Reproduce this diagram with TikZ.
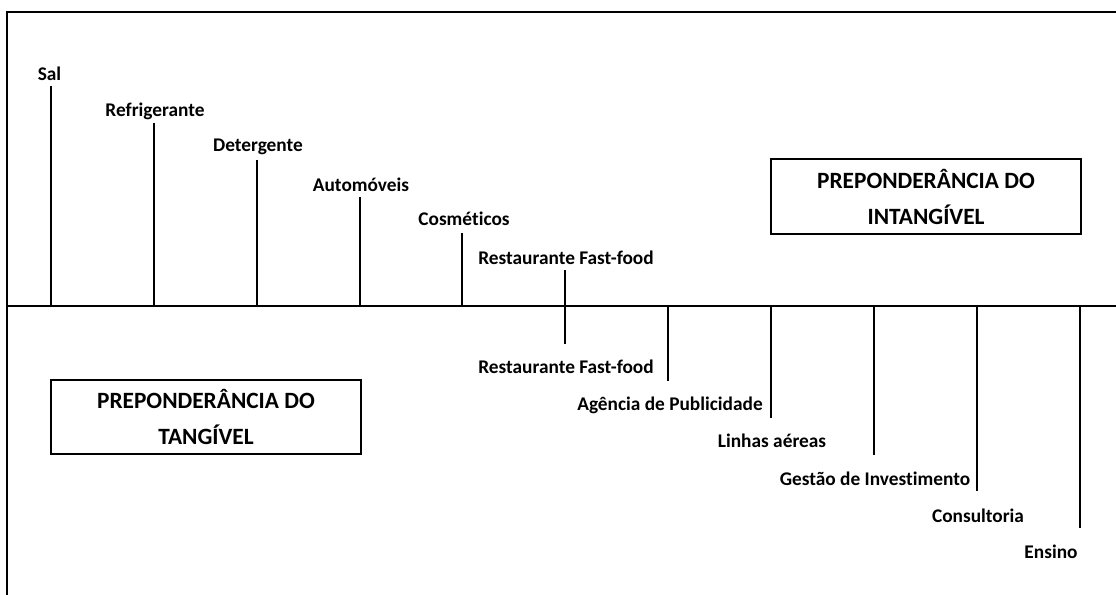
\documentclass[tikz,border=0pt]{standalone}
\usepackage{fontspec}
\setmainfont{Carlito}[Ligatures=CommonOff]
\begin{document}
\begin{tikzpicture}[x=0.75pt,y=-0.75pt,
  frameline/.style={line width=2.2pt,line cap=rect},
  tickline/.style={line width=2.2pt},
  lbl/.style={font=\bfseries\fontsize{14.5}{17}\selectfont,inner sep=0pt,anchor=center},
  bigbox/.style={draw,line width=2.2pt,inner sep=0pt,align=center,
    font=\bfseries\fontsize{17.5}{27}\selectfont}]
\useasboundingbox (0,0) rectangle (1116,595);
% frame and axis
\coordinate (fbl) at (7,597);
\coordinate (ftl) at (7,12);
\coordinate (ftr) at (1118,12);
\coordinate (al) at (7,306);
\coordinate (ar) at (1118,306);
\draw[frameline] (fbl) -- (ftl) -- (ftr);
\draw[frameline] (al) -- (ar);
% upper ticks
\foreach \i/\x/\t in {1/51/86,2/154/123,3/257/160,4/360/197,5/462/233}{
  \coordinate (ut\i) at (\x,\t);
  \coordinate (ub\i) at (\x,306);
  \draw[tickline] (ut\i) -- (ub\i);
}
\coordinate (rt) at (565,270);
\coordinate (rb) at (565,344);
\draw[tickline] (rt) -- (rb);
% lower ticks
\foreach \i/\x/\b in {1/668/381,2/771/418,3/874/455,4/977/491,5/1080/528}{
  \coordinate (lt\i) at (\x,306);
  \coordinate (lb\i) at (\x,\b);
  \draw[tickline] (lt\i) -- (lb\i);
}
% upper labels
\node[lbl] (sal) at (49.5,74) {Sal};
\node[lbl] (refr) at (155,111) {Refrigerante};
\node[lbl] (det) at (258,147) {Detergente};
\node[lbl] (auto) at (361,185) {Automóveis};
\node[lbl] (cosm) at (464,219) {Cosméticos};
\node[lbl] (rest1) at (566,258) {Restaurante Fast-food};
% lower labels
\node[lbl] (rest2) at (566,367) {Restaurante Fast-food};
\node[lbl] (agen) at (670,405) {Agência de Publicidade};
\node[lbl] (linh) at (772,441) {Linhas aéreas};
\node[lbl] (gest) at (875,479) {Gestão de Investimento};
\node[lbl] (cons) at (978,516) {Consultoria};
\node[lbl] (ens) at (1051,552) {Ensino};
% boxes
\node[bigbox,minimum width=310*0.75pt,minimum height=75*0.75pt] (intang) at (926,196.5) {PREPONDERÂNCIA DO\\INTANGÍVEL};
\node[bigbox,minimum width=310*0.75pt,minimum height=74*0.75pt] (tang) at (206,417) {PREPONDERÂNCIA DO\\TANGÍVEL};
\end{tikzpicture}
\end{document}
